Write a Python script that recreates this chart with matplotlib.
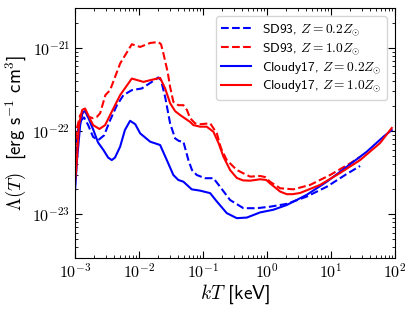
import matplotlib
matplotlib.use("Agg")
import matplotlib.pyplot as plt
from matplotlib.ticker import FuncFormatter, NullFormatter
import numpy as np

plt.rcParams["mathtext.fontset"] = "cm"
plt.rcParams["font.family"] = ["DejaVu Sans"]
SANS = ["cmss10", "DejaVu Sans"]

# SD93, Z = 0.2 Zsun
sd02_kt = [1.0e-3, 1.11e-3, 1.24e-3, 1.38e-3, 1.6e-3, 1.91e-3, 2.31e-3, 2.84e-3, 3.52e-3,
           4.5e-3, 5.69e-3, 7.69e-3, 1.10e-2, 1.58e-2, 2.0e-2, 2.2e-2, 2.55e-2, 3.05e-2,
           3.65e-2, 4.2e-2, 4.92e-2, 5.89e-2, 6.7e-2, 7.97e-2, 0.107, 0.145, 0.184, 0.264,
           0.427, 0.690, 1.11, 2.03, 4.17, 8.57, 17.6, 28.4]
sd02_lam = [3.9e-23, 1.03e-22, 1.35e-22, 1.46e-22, 1.18e-22, 8.5e-23, 7.8e-23, 8.9e-23, 1.35e-22,
            2.05e-22, 2.71e-22, 3.11e-22, 3.26e-22, 3.91e-22, 4.42e-22, 4.1e-22, 2.58e-22, 1.24e-22,
            8.17e-23, 7.6e-23, 7.45e-23, 4.48e-23, 3.4e-23, 2.96e-23, 2.71e-23, 2.71e-23, 2.14e-23,
            1.48e-23, 1.18e-23, 1.18e-23, 1.23e-23, 1.33e-23, 1.63e-23, 2.14e-23, 3.05e-23, 3.8e-23]

# SD93, Z = 1.0 Zsun
sd10_kt = [1.0e-3, 1.07e-3, 1.2e-3, 1.38e-3, 1.6e-3, 1.91e-3, 2.2e-3, 2.46e-3, 2.97e-3, 3.52e-3,
           5.05e-3, 7.69e-3, 1.04e-2, 1.49e-2, 2.0e-2, 2.2e-2, 2.4e-2, 2.8e-2, 3.05e-2, 3.43e-2,
           4.1e-2, 4.92e-2, 5.6e-2, 6.26e-2, 7.5e-2, 8.98e-2, 0.129, 0.164, 0.19, 0.234, 0.336,
           0.542, 0.778, 0.93, 1.11, 1.60, 2.58, 4.70, 9.64, 19.8, 28.4]
sd10_lam = [5.9e-23, 1.09e-22, 1.56e-22, 1.69e-22, 1.49e-22, 1.43e-22, 1.49e-22, 1.64e-22, 2.71e-22,
            3.11e-22, 6.5e-22, 1.11e-21, 1.03e-21, 1.15e-21, 1.18e-21, 1.11e-21, 8.57e-22, 5.1e-22,
            3.4e-22, 2.25e-22, 2.05e-22, 2.05e-22, 1.79e-22, 1.43e-22, 1.24e-22, 1.21e-22, 1.24e-22,
            9.38e-23, 6.25e-23, 4.48e-23, 3.4e-23, 2.83e-23, 2.88e-23, 2.8e-23, 2.46e-23, 2.05e-23,
            1.99e-23, 2.25e-23, 2.96e-23, 4.09e-23, 4.88e-23]

# Cloudy17, Z = 0.2 Zsun
cl02_kt = [1.0e-3, 1.07e-3, 1.2e-3, 1.31e-3, 1.43e-3, 1.6e-3, 1.93e-3, 2.28e-3, 2.77e-3, 3.28e-3,
           3.74e-3, 4.2e-3, 5.05e-3, 6.0e-3, 7.23e-3, 8.7e-3, 1.04e-2, 1.49e-2, 2.13e-2, 2.71e-2,
           3.43e-2, 4.1e-2, 4.92e-2, 6.65e-2, 8.98e-2, 0.129, 0.164, 0.234, 0.336, 0.482, 0.778,
           1.25, 2.03, 4.17, 8.57, 17.6, 36.1, 65.6, 88.7]
cl02_lam = [1.96e-23, 4.48e-23, 1.18e-22, 1.69e-22, 1.74e-22, 1.46e-22, 1.03e-22, 7.3e-23, 5.92e-23,
            4.8e-23, 4.48e-23, 4.8e-23, 6.49e-23, 1.03e-22, 1.33e-22, 1.21e-22, 9.38e-23, 7.45e-23,
            6.8e-23, 4.48e-23, 2.96e-23, 2.58e-23, 2.46e-23, 1.99e-23, 1.92e-23, 1.79e-23, 1.42e-23,
            1.03e-23, 8.95e-24, 9.1e-24, 1.05e-23, 1.13e-23, 1.29e-23, 1.71e-23, 2.46e-23, 3.72e-23,
            5.65e-23, 8.55e-23, 1.03e-22]

# Cloudy17, Z = 1.0 Zsun
cl10_kt = [1.0e-3, 1.04e-3, 1.15e-3, 1.29e-3, 1.43e-3, 1.6e-3, 1.91e-3, 2.40e-3, 2.94e-3, 3.52e-3,
           5.05e-3, 7.69e-3, 1.17e-2, 1.49e-2, 2.13e-2, 2.55e-2, 3.05e-2, 3.65e-2, 4.37e-2, 6.26e-2,
           7.05e-2, 8.98e-2, 0.114, 0.145, 0.174, 0.208, 0.264, 0.336, 0.42, 0.542, 0.778, 0.97,
           1.11, 1.60, 2.03, 2.5, 3.28, 6.73, 13.8, 28.4, 58.3, 88.7]
cl10_lam = [2.58e-23, 3.4e-23, 1.2e-22, 1.8e-22, 1.87e-22, 1.56e-22, 1.18e-22, 1.06e-22, 1.18e-22,
            1.56e-22, 2.71e-22, 4.29e-22, 3.91e-22, 4.1e-22, 4.37e-22, 3.26e-22, 2.17e-22, 1.74e-22,
            1.56e-22, 1.29e-22, 1.18e-22, 1.13e-22, 1.13e-22, 9.8e-23, 7.2e-23, 4.91e-23, 3.4e-23,
            2.73e-23, 2.55e-23, 2.53e-23, 2.63e-23, 2.58e-23, 2.35e-23, 1.87e-23, 1.74e-23, 1.74e-23,
            1.80e-23, 2.25e-23, 3.13e-23, 4.48e-23, 7.18e-23, 1.09e-22]

x_ticks = [1e-3, 1e-2, 1e-1, 1e0, 1e1, 1e2]
y_ticks = [1e-23, 1e-22, 1e-21]


def pow10(v, pos):
    return r"$10^{%d}$" % int(round(np.log10(v)))


fig = plt.figure(figsize=(4.15, 3.1), dpi=100)
ax = fig.add_axes([0.181, 0.169, 0.771, 0.804])

ax.plot(sd02_kt, sd02_lam, color="blue", ls="--", lw=1.5,
        label=r"SD93, $Z = 0.2Z_{\odot}$")
ax.plot(sd10_kt, sd10_lam, color="red", ls="--", lw=1.5,
        label=r"SD93, $Z = 1.0Z_{\odot}$")
ax.plot(cl02_kt, cl02_lam, color="blue", lw=1.5,
        label=r"Cloudy17, $Z = 0.2Z_{\odot}$")
ax.plot(cl10_kt, cl10_lam, color="red", lw=1.5,
        label=r"Cloudy17, $Z = 1.0Z_{\odot}$")

ax.set_xscale("log")
ax.set_yscale("log")
ax.set_xticks(x_ticks)
ax.set_yticks(y_ticks)
ax.set_xlim(1e-3, 1e2)
ax.set_ylim(3e-24, 3e-21)
for axis in (ax.xaxis, ax.yaxis):
    axis.set_major_formatter(FuncFormatter(pow10))
    axis.set_minor_formatter(NullFormatter())

ax.tick_params(which="both", direction="in", top=True, right=True, labelsize=11.5)
ax.tick_params(which="major", length=5)
ax.tick_params(which="minor", length=2.5)

ax.set_xlabel(r"$kT$ [keV]", fontsize=14, labelpad=1, family=SANS)
ax.set_ylabel(r"$\Lambda(T)$  [erg s$^{-1}$ cm$^3$]", fontsize=13.5, labelpad=2, family=SANS)

ax.legend(loc="upper right", handlelength=2.2, borderaxespad=0.6, labelspacing=0.22,
          prop={"family": SANS, "size": 9.7})

fig.savefig("out.png", dpi=100)
